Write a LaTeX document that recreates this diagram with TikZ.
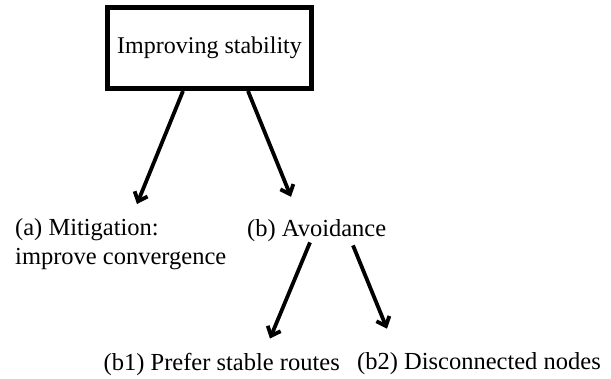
\documentclass[tikz,border=0pt]{standalone}
\usepackage{fontspec}
\setmainfont{Liberation Serif}
\usepackage{tikz}
\usetikzlibrary{arrows.meta, positioning}
\tikzstyle{rootbox} = [rectangle, draw=black, line width=5pt, minimum width=204pt, minimum height=81pt, inner sep=0pt, text centered, font=\fontsize{24}{29}\selectfont]
\tikzstyle{leaf} = [inner sep=0pt, align=left, font=\fontsize{24.5}{29}\selectfont]
\tikzstyle{arrow} = [line width=3.8pt, -{Straight Barb[length=8pt,width=14pt]}, color=black]

\begin{document}
\begin{tikzpicture}[x=1pt, y=1pt]
    \useasboundingbox (0,0) rectangle (611,-378);
    % Nodes
    \node (root) [rootbox] at (209.5,-48) {Improving stability};
    \node (mitigation) [leaf, anchor=north west] at (15,-218) {(a) Mitigation:\\improve convergence};
    \node (avoidance) [leaf, anchor=base west] at (247,-236) {(b) Avoidance};
    \node (stable) [leaf, anchor=base east] at (340,-370) {(b1) Prefer stable routes};
    \node (disconnected) [leaf, right=17pt of stable] {(b2) Disconnected nodes};

    % Arrows
    \draw [arrow] ([xshift=-26.5pt]root.south) -- ([xshift=122pt, yshift=14pt]mitigation.north west);
    \draw [arrow] ([xshift=38.5pt]root.south) -- ([xshift=44pt, yshift=22pt]avoidance.north west);
    \draw [arrow] ([xshift=63pt, yshift=-1pt]avoidance.south west) -- ([xshift=-70pt, yshift=14pt]stable.north east);
    \draw [arrow] ([xshift=106pt, yshift=-4pt]avoidance.south west) -- ([xshift=30pt, yshift=24pt]disconnected.north west);
\end{tikzpicture}
\end{document}
